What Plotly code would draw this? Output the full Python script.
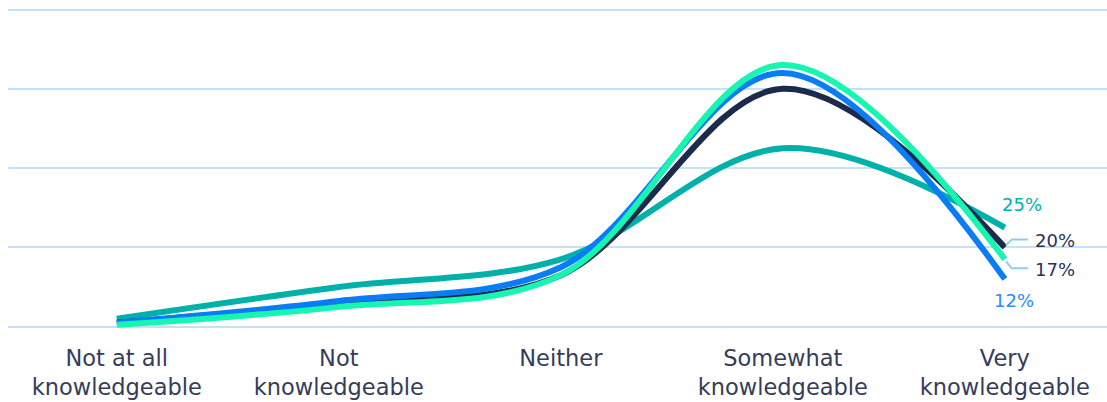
import plotly.graph_objects as go

# Survey: self-rated knowledge, share of respondents (%)
categories = ["Not at all<br>knowledgeable", "Not<br>knowledgeable", "Neither",
              "Somewhat<br>knowledgeable", "Very<br>knowledgeable"]

series_names = ["Group A", "Group B", "Group C", "Group D"]
group_a = [2, 10, 17, 45, 25]    # teal
group_b = [1, 6, 13, 60, 20]     # navy
group_c = [1, 6.5, 15, 64, 12]   # blue
group_d = [0.5, 5, 13, 66, 17]   # mint

colors = ["#00b1a9", "#1c2a4c", "#0a7cf6", "#17f5b2"]
label_colors = ["#00b1a9", "#2a3353", "#2b8cf5", "#2a3353"]
# end-label offsets in pixels from the last point, and whether a leader line is drawn
label_offsets = [(17, 23, False), (50, 7, True), (9, -21, False), (50, -10, True)]

series = [group_a, group_b, group_c, group_d]

fig = go.Figure()
for name, vals, col in zip(series_names, series, colors):
    fig.add_trace(go.Scatter(
        x=categories, y=vals, name=name, mode="lines",
        line=dict(color=col, width=6, shape="spline", smoothing=1.0),
        hoverinfo="skip",
    ))

leader = "#8fcaf6"
for vals, col, (dx, dy, lead) in zip(series, label_colors, label_offsets):
    fig.add_annotation(
        x=categories[-1], y=vals[-1], text=f"{vals[-1]:g}%", showarrow=False,
        xshift=dx, yshift=dy, font=dict(family="DejaVu Sans", size=18, color=col),
    )
    if lead:
        sy = 1 if dy > 0 else -1
        ly = dy + 1
        fig.add_shape(
            type="path", xref="x", yref="y", xsizemode="pixel", ysizemode="pixel",
            xanchor=categories[-1], yanchor=vals[-1],
            path=f"M 1,{2 * sy} L 7,{ly} L 23,{ly}",
            line=dict(color=leader, width=2),
        )

fig.update_layout(
    width=1107, height=402,
    margin=dict(l=8, r=0, t=0, b=60),
    paper_bgcolor="white", plot_bgcolor="white",
    showlegend=False,
    font=dict(family="DejaVu Sans", color="#343c5a"),
    xaxis=dict(
        type="category", range=[-0.49, 4.46], showgrid=False, zeroline=False,
        showline=False, ticks="", tickfont=dict(size=22.5, color="#343c5a"),
    ),
    yaxis=dict(
        range=[-3.859, 82.396], tickvals=[0, 20, 40, 60, 80], showticklabels=False,
        gridcolor="#c3e1fa", gridwidth=2, zeroline=False, showline=False,
    ),
)

fig.write_html("out.html")
